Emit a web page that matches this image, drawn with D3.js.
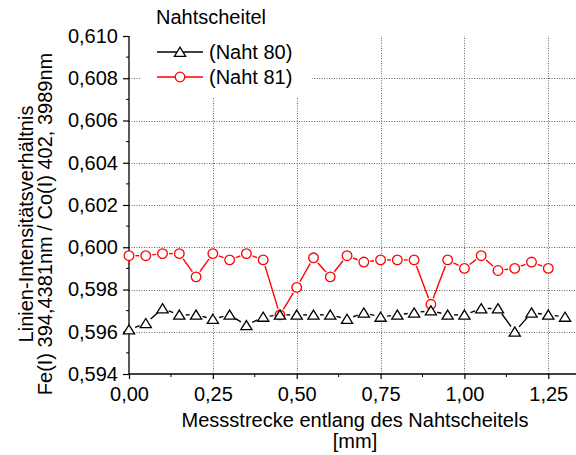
<!DOCTYPE html>
<html>
<head>
<meta charset="utf-8">
<script src="https://cdn.jsdelivr.net/npm/d3@7"></script>
<style>
  html, body { margin: 0; padding: 0; background: #fff; }
  svg { display: block; font-family: Arial, "Liberation Sans", sans-serif; }
</style>
</head>
<body>
<svg id="chart" width="576" height="455"></svg>
<script>
// Measurement positions along the weld crest [mm]
const posNaht80 = [0.00, 0.05, 0.10, 0.15, 0.20, 0.25, 0.30, 0.35, 0.40, 0.45, 0.50, 0.55, 0.60,
                   0.65, 0.70, 0.75, 0.80, 0.85, 0.90, 0.95, 1.00, 1.05, 1.10, 1.15, 1.20, 1.25, 1.30];
const valNaht80 = [0.5961, 0.5964, 0.5971, 0.5968, 0.5968, 0.5966, 0.5968, 0.5963, 0.5967, 0.5968,
                   0.5968, 0.5968, 0.5968, 0.5966, 0.5969, 0.5967, 0.5968, 0.5969, 0.5970, 0.5968,
                   0.5968, 0.5971, 0.5971, 0.5960, 0.5969, 0.5968, 0.5967];

const posNaht81 = [0.00, 0.05, 0.10, 0.15, 0.20, 0.25, 0.30, 0.35, 0.40, 0.45, 0.50, 0.55, 0.60,
                   0.65, 0.70, 0.75, 0.80, 0.85, 0.90, 0.95, 1.00, 1.05, 1.10, 1.15, 1.20, 1.25];
const valNaht81 = [0.5996, 0.5996, 0.5997, 0.5997, 0.5986, 0.5997, 0.5994, 0.5997, 0.5994, 0.5968,
                   0.5981, 0.5995, 0.5986, 0.5996, 0.5993, 0.5994, 0.5994, 0.5994, 0.5973, 0.5994,
                   0.5990, 0.5996, 0.5989, 0.5990, 0.5993, 0.5990];

const xTicks = [0, 0.25, 0.5, 0.75, 1.0, 1.25];
const xMinorTicks = [0.125, 0.375, 0.625, 0.875, 1.125];
const yTicks = [0.594, 0.596, 0.598, 0.600, 0.602, 0.604, 0.606, 0.608, 0.610];
const yMinorTicks = [0.595, 0.597, 0.599, 0.601, 0.603, 0.605, 0.607, 0.609];

const legendTitle = "Nahtscheitel";
const seriesNames = ["(Naht 80)", "(Naht 81)"];
const xTitle = ["Messstrecke entlang des Nahtscheitels", "[mm]"];
const yTitle = ["Linien-Intensitätsverhältnis", "Fe(I) 394,4381nm / Co(I) 402, 3989nm"];

const svg = d3.select("#chart");
const fontSize = 20;

const x = d3.scaleLinear().domain([0, 1.335]).range([129, 576.8]);
const y = d3.scaleLinear().domain([0.594, 0.610]).range([374, 36]);

// Dotted grid
const grid = svg.append("g").attr("stroke", "#666").attr("stroke-width", 1)
  .attr("stroke-dasharray", "1,1.5");
grid.selectAll("line.h").data(yTicks.filter(t => t > 0.5945 && t < 0.6095)).join("line")
  .attr("x1", x.range()[0]).attr("x2", x.range()[1])
  .attr("y1", d => Math.round(y(d)) + 0.5).attr("y2", d => Math.round(y(d)) + 0.5);
grid.selectAll("line.v").data(xTicks.filter(t => t > 0)).join("line")
  .attr("y1", y.range()[0]).attr("y2", y.range()[1])
  .attr("x1", d => Math.round(x(d)) + 0.5).attr("x2", d => Math.round(x(d)) + 0.5);

// Axes
const xAxis = d3.axisBottom(x).tickValues(xTicks).tickSize(5).tickPadding(8).tickFormat(d => d.toFixed(2).replace(".", ","));
const yAxis = d3.axisLeft(y).tickValues(yTicks).tickSize(6).tickPadding(5).tickFormat(d => d.toFixed(3).replace(".", ","));

const gx = svg.append("g").attr("transform", `translate(0,${y.range()[0]})`).call(xAxis);
const gy = svg.append("g").attr("transform", `translate(${x.range()[0]},0)`).call(yAxis);
gx.append("g").selectAll("line").data(xMinorTicks).join("line")
  .attr("x1", d => x(d)).attr("x2", d => x(d)).attr("y1", 0).attr("y2", 3).attr("stroke", "#000");
gy.append("g").selectAll("line").data(yMinorTicks).join("line")
  .attr("y1", d => y(d)).attr("y2", d => y(d)).attr("x1", 0).attr("x2", -3).attr("stroke", "#000");
[gx, gy].forEach(g => {
  g.selectAll("path.domain").attr("stroke", "#000").attr("stroke-width", 1.3);
  g.selectAll(".tick line").attr("stroke", "#000").attr("stroke-width", 1.2);
  g.selectAll(".tick text").attr("font-size", fontSize).attr("fill", "#000")
    .attr("font-family", "Arial, 'Liberation Sans', sans-serif");
});
gx.select("path.domain").attr("d", `M${x.range()[0]},0H${x.range()[1]}`);
gy.select("path.domain").attr("d", `M0,${y.range()[0]}V${y.range()[1]}`);

// Axis titles
svg.append("g").selectAll("text").data(xTitle).join("text")
  .attr("x", 355).attr("y", (d, i) => 426.5 + i * 21.5)
  .attr("text-anchor", "middle").attr("font-size", fontSize).text(d => d);
svg.append("g").selectAll("text").data(yTitle).join("text")
  .attr("transform", (d, i) => `translate(${33 + i * 18.5},224) rotate(-90)`)
  .attr("text-anchor", "middle").attr("font-size", fontSize).text(d => d);

// Markers
const triPath = "M0,-4.8L5.6,4.3L-5.6,4.3Z";
function drawSeries(xs, ys, color, marker) {
  const g = svg.append("g");
  const gap = 6.5;
  const pts = xs.map((v, i) => [x(v), y(ys[i])]);
  for (let i = 0; i < pts.length - 1; i++) {
    const [x0, y0] = pts[i], [x1, y1] = pts[i + 1];
    const len = Math.hypot(x1 - x0, y1 - y0);
    if (len <= 2 * gap) continue;
    const ux = (x1 - x0) / len, uy = (y1 - y0) / len;
    g.append("line")
      .attr("x1", x0 + ux * gap).attr("y1", y0 + uy * gap)
      .attr("x2", x1 - ux * gap).attr("y2", y1 - uy * gap)
      .attr("stroke", color).attr("stroke-width", 1.4);
  }
  drawMarkers(g, pts, color, marker);
}
function drawMarkers(g, pts, color, marker) {
  if (marker === "circle") {
    g.selectAll("circle").data(pts).join("circle")
      .attr("cx", d => d[0]).attr("cy", d => d[1]).attr("r", 4.8)
      .attr("fill", "#fff").attr("stroke", color).attr("stroke-width", 1.3);
  } else {
    g.selectAll("path.m").data(pts).join("path").attr("class", "m")
      .attr("transform", d => `translate(${d[0]},${d[1]})`).attr("d", triPath)
      .attr("fill", "#fff").attr("stroke", color).attr("stroke-width", 1.3);
  }
}
drawSeries(posNaht81, valNaht81, "#ff0000", "circle");
drawSeries(posNaht80, valNaht80, "#000", "triangle");

// Legend
const legend = svg.append("g");
legend.append("rect").attr("x", 140).attr("y", 30).attr("width", 172).attr("height", 67).attr("fill", "#fff");
legend.append("text").attr("x", 156).attr("y", 24).attr("font-size", fontSize).text(legendTitle);
const legendItems = [
  { name: seriesNames[0], color: "#000", marker: "triangle", yy: 52 },
  { name: seriesNames[1], color: "#ff0000", marker: "circle", yy: 77 }
];
legendItems.forEach(it => {
  legend.append("line").attr("x1", 157).attr("x2", 203).attr("y1", it.yy).attr("y2", it.yy)
    .attr("stroke", it.color).attr("stroke-width", 1.4);
  drawMarkers(legend.append("g"), [[180, it.yy]], it.color, it.marker);
  legend.append("text").attr("x", 209).attr("y", it.yy + 7).attr("font-size", fontSize).text(it.name);
});
</script>
</body>
</html>
